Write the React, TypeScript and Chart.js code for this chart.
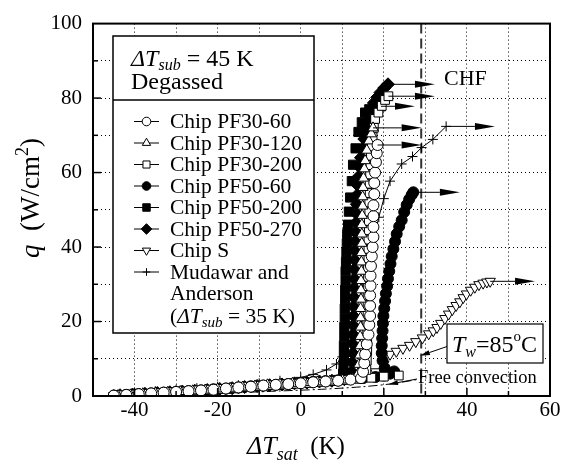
import React, { useEffect, useRef } from "react";
import { Chart, registerables } from "chart.js";

Chart.register(...registerables);

const FONT = "'Liberation Serif', 'Times New Roman', Times, serif";

// Axes
const xMin = -50;
const xMax = 60;
const yMin = 0;
const yMax = 100;
const gridStep = 10;
const xLabelTicks = [-40, -20, 0, 20, 40, 60];
const yLabelTicks = [0, 20, 40, 60, 80, 100];

// Chip PF30-60 (open circles)
const pf3060X = [-45, -42, -39, -36, -33, -30, -27, -24, -21, -18, -15, -12, -9, -6, -3, 0, 3, 6, 9, 12, 14.5,
  15, 15.3, 15.5, 15.9, 16.3, 16.5, 16.7, 16.7, 16.7, 16.8, 16.8, 16.9, 17.1, 17.3, 17.5, 17.5, 17.5, 17.5, 17.7, 17.7, 17.9, 18.1, 18.3, 18.5];
const pf3060Q = [0.1, 0.3, 0.5, 0.7, 0.9, 1.1, 1.3, 1.5, 1.7, 2.0, 2.3, 2.5, 2.8, 3.0, 3.2, 3.4, 3.7, 3.9, 4.1, 4.4, 4.8,
  6.5, 8.8, 11.2, 13.9, 16.5, 19.1, 21.5, 24.2, 27.0, 29.6, 32.3, 34.9, 37.5, 40.0, 42.7, 45.4, 48.3, 51.2, 54.2, 57.2, 60.0, 62.8, 65.2, 67.4];

// Chip PF30-120 (open triangles)
const pf30120X = [-44, -41, -38, -35, -32, -29, -26, -23, -20, -17, -14, -11, -8, -5, -2, 1, 4, 7, 10, 12.5,
  13.8, 14.0, 14.2, 14.3, 14.3, 14.4, 14.4, 14.4, 14.5, 14.5, 14.5, 14.6, 14.6, 14.6, 14.7, 14.7, 14.7, 14.8, 14.9, 14.9, 15.0, 15.1, 15.3, 15.5, 15.9, 16.4, 17.0, 17.4];
const pf30120Q = [0.1, 0.3, 0.6, 0.8, 1.0, 1.2, 1.4, 1.6, 1.9, 2.1, 2.4, 2.7, 3.0, 3.2, 3.4, 3.6, 3.8, 4.0, 4.3, 4.6,
  6.0, 8.5, 11.0, 13.5, 16.0, 18.5, 21.0, 23.5, 26.0, 28.5, 31.0, 33.5, 36.0, 38.5, 41.0, 43.5, 46.0, 48.5, 51.0, 53.5, 56.0, 58.5, 61.0, 63.2, 66.0, 68.5, 70.4, 72.0];

// Chip PF30-200 (open squares)
const pf30200X = [-43, -40, -37, -34, -31, -28, -25, -22, -19, -16, -13, -10, -7, -4, -1, 2, 5, 8, 11, 14, 17, 20, 23.6,
  15.8, 15.9, 16.0, 16.0, 16.0, 16.0, 16.1, 16.1, 16.1, 16.2, 16.2, 16.2, 16.3, 16.3, 16.3, 16.4, 16.4, 16.5, 16.5, 16.6, 16.6, 16.7, 16.8, 16.9, 17.1, 17.3, 17.6, 17.9, 18.7, 19.5, 20.3, 21.1];
const pf30200Q = [0.2, 0.4, 0.6, 0.8, 1.0, 1.2, 1.5, 1.7, 1.9, 2.2, 2.5, 2.7, 2.9, 3.1, 3.3, 3.5, 3.8, 4.0, 4.3, 4.6, 4.9, 5.2, 5.5,
  7.0, 9.5, 12.0, 14.5, 17.0, 19.5, 22.0, 24.5, 27.0, 29.5, 32.0, 34.5, 37.0, 39.5, 42.0, 44.5, 47.0, 49.5, 52.0, 54.5, 57.0, 59.5, 62.0, 64.5, 67.0, 69.5, 72.0, 74.4, 76.1, 77.9, 79.5, 80.5];

// Chip PF50-60 (filled circles)
const pf5060X = [-45, -42, -39, -36, -33, -30, -27, -24, -21, -18, -15, -12, -9, -6, -3, 0, 3, 6, 9, 12, 15, 18, 20, 21.5, 22.5,
  20.2, 19.7, 19.5, 19.5, 19.6, 19.7, 19.8, 19.9, 20.1, 20.3, 20.5, 20.8, 21.0, 21.3, 21.6, 21.9, 22.3, 22.7, 23.1, 23.7, 24.3, 24.9, 25.5, 26.1, 26.7, 27.1];
const pf5060Q = [0.1, 0.3, 0.5, 0.7, 0.9, 1.1, 1.3, 1.5, 1.8, 2.0, 2.3, 2.6, 2.8, 3.0, 3.2, 3.5, 3.8, 4.0, 4.2, 4.5, 4.8, 5.1, 5.5, 6.0, 6.6,
  7.5, 9.5, 11.5, 13.5, 15.5, 17.5, 19.5, 21.5, 23.5, 25.5, 27.5, 29.5, 31.5, 33.5, 35.5, 37.5, 39.5, 41.5, 43.5, 45.5, 47.2, 49.4, 51.3, 52.8, 54.0, 54.7];

// Chip PF50-200 (filled squares)
const pf50200X = [-44.5, -41.5, -38.5, -35.5, -32.5, -29.5, -26.5, -23.5, -20.5, -17.5, -14.5, -11.5, -8.5, -5.5, -2.5, 0.5, 3.5, 6.5, 9,
  10.2, 10.3, 10.4, 10.4, 10.5, 10.5, 10.6, 10.6, 10.7, 10.7, 10.8, 10.8, 10.9, 11.0, 11.1, 11.2, 11.4, 11.6, 11.9, 12.3, 12.6, 13.2, 13.9, 14.7, 15.5, 16.5, 17.8, 19.3];
const pf50200Q = [0.1, 0.3, 0.5, 0.7, 0.9, 1.1, 1.3, 1.5, 1.8, 2.0, 2.3, 2.6, 2.8, 3.0, 3.3, 3.5, 3.8, 4.0, 4.3,
  6.0, 8.5, 11.0, 13.5, 16.0, 18.5, 21.0, 23.5, 26.0, 28.5, 31.0, 33.5, 36.0, 38.5, 41.0, 43.5, 46.0, 49.5, 53.3, 57.7, 62.1, 66.5, 70.9, 73.5, 76.1, 77.0, 77.5, 77.8];

// Chip PF50-270 (filled diamonds)
const pf50270X = [-43.5, -40.5, -37.5, -34.5, -31.5, -28.5, -25.5, -22.5, -19.5, -16.5, -13.5, -10.5, -7.5, -4.5, -1.5, 1.5, 4.5, 7.5, 10.5,
  12.3, 12.4, 12.5, 12.5, 12.6, 12.6, 12.7, 12.7, 12.8, 12.8, 12.9, 12.9, 13.0, 13.0, 13.1, 13.2, 13.3, 13.4, 13.5, 13.6, 13.8, 14.0, 14.2, 14.5, 14.9, 15.3, 15.8, 16.4, 17.0, 17.6, 18.4, 19.2, 20.1, 21.0];
const pf50270Q = [0.2, 0.4, 0.6, 0.8, 1.0, 1.2, 1.4, 1.6, 1.9, 2.1, 2.4, 2.7, 2.9, 3.1, 3.4, 3.6, 3.9, 4.1, 4.5,
  6.5, 9.0, 11.5, 14.0, 16.5, 19.0, 21.5, 24.0, 26.5, 29.0, 31.5, 34.0, 36.5, 39.0, 41.5, 44.0, 46.5, 49.0, 51.5, 54.0, 56.5, 59.0, 61.5, 64.0, 66.5, 69.0, 71.5, 74.0, 76.5, 78.7, 80.2, 81.5, 82.7, 83.7];

// Chip S (open inverted triangles)
const chipSX = [-45, -42, -39, -36, -33, -30, -27, -24, -21, -18, -15, -12, -9, -6, -3, 0, 3, 6, 9, 12, 15, 18, 20,
  21.5, 23.0, 24.6, 26.2, 27.7, 29.3, 30.8, 31.9, 32.8, 33.7, 34.7, 35.6, 36.5, 37.4, 38.3, 39.1, 39.9, 40.9, 41.9, 42.9, 43.9, 44.8, 45.6];
const chipSQ = [0.1, 0.3, 0.5, 0.7, 0.9, 1.1, 1.3, 1.5, 1.7, 2.0, 2.2, 2.5, 2.7, 3.0, 3.2, 3.4, 3.7, 3.9, 4.2, 4.6, 5.2, 6.5, 8.5,
  11.2, 12.0, 12.8, 13.6, 14.6, 15.6, 16.7, 17.5, 18.4, 19.5, 20.8, 22.0, 23.2, 24.3, 25.3, 26.4, 27.4, 28.4, 29.2, 29.9, 30.3, 30.6, 30.8];

// Mudawar and Anderson (crosses with line)
const mudX = [-45, -40, -35, -30, -25, -20, -15, -10, -5, 0, 3, 6.2, 8.6, 10, 11.5, 13, 14.5, 16, 17.5, 18.8, 20, 21.5, 24.3, 26.9, 29.1, 31.8, 35];
const mudQ = [0.5, 0.9, 1.3, 1.7, 2.1, 2.5, 2.9, 3.4, 4.1, 5.0, 5.8, 7.0, 8.6, 10.5, 15, 21, 28, 35, 42, 48, 53, 57.7, 62.3, 64.3, 66.7, 68.9, 72.4];

// Free convection (dash-dot)
const freeConvX = [-45, -35, -25, -15, -5, 5, 15, 22, 28];
const freeConvQ = [0, 0.25, 0.55, 0.9, 1.35, 1.8, 2.5, 3.3, 4.4];

// CHF arrow end positions (ΔTsat, K) in series order
const seriesNames = ["Chip PF30-60", "Chip PF30-120", "Chip PF30-200", "Chip PF50-60", "Chip PF50-200", "Chip PF50-270", "Chip S", "Mudawar and"];
const chfArrowEndX = [29.1, 29.1, 32.3, 38.3, 27.5, 32.3, 56.4, 46.75];

// Wall temperature line T_w = 85 °C
const twLineX = 29;

type Style = { shape: string; filled: boolean; r: number; rot?: number };
const styles: Style[] = [
  { shape: "circle", filled: false, r: 5.5 },
  { shape: "triangle", filled: false, r: 6 },
  { shape: "rect", filled: false, r: 6.2 },
  { shape: "circle", filled: true, r: 5.5 },
  { shape: "rect", filled: true, r: 6.5 },
  { shape: "rectRot", filled: true, r: 6.5 },
  { shape: "triangle", filled: false, r: 6, rot: 180 },
  { shape: "cross", filled: false, r: 5 },
];

const seriesX = [pf3060X, pf30120X, pf30200X, pf5060X, pf50200X, pf50270X, chipSX, mudX];
const seriesQ = [pf3060Q, pf30120Q, pf30200Q, pf5060Q, pf50200Q, pf50270Q, chipSQ, mudQ];

function pts(xs: number[], ys: number[]) {
  return xs.map((x, i) => ({ x, y: ys[i] }));
}

type Seg = { t: string; it?: boolean; s: number; dy?: number };
function rich(ctx: CanvasRenderingContext2D, segs: Seg[], x: number, y: number) {
  let cx = x;
  for (const sg of segs) {
    ctx.font = `${sg.it ? "italic " : ""}${sg.s}px ${FONT}`;
    ctx.fillText(sg.t, cx, y + (sg.dy || 0));
    cx += ctx.measureText(sg.t).width;
  }
  return cx - x;
}

function drawMarker(ctx: CanvasRenderingContext2D, st: Style, x: number, y: number, r: number) {
  ctx.save();
  ctx.lineWidth = 1;
  ctx.strokeStyle = "#000";
  ctx.fillStyle = st.filled ? "#000" : "#fff";
  ctx.beginPath();
  if (st.shape === "circle") {
    ctx.arc(x, y, r, 0, Math.PI * 2);
  } else if (st.shape === "triangle") {
    const sgn = st.rot ? -1 : 1;
    for (let k = 0; k < 3; k++) {
      const a = (k * 2 * Math.PI) / 3;
      const px = x + Math.sin(a) * r;
      const py = y - sgn * Math.cos(a) * r;
      if (k === 0) ctx.moveTo(px, py);
      else ctx.lineTo(px, py);
    }
    ctx.closePath();
  } else if (st.shape === "rect") {
    const s = r * Math.SQRT1_2;
    ctx.rect(x - s, y - s, 2 * s, 2 * s);
  } else if (st.shape === "rectRot") {
    ctx.moveTo(x, y - r);
    ctx.lineTo(x + r, y);
    ctx.lineTo(x, y + r);
    ctx.lineTo(x - r, y);
    ctx.closePath();
  } else if (st.shape === "cross") {
    ctx.moveTo(x - r, y);
    ctx.lineTo(x + r, y);
    ctx.moveTo(x, y - r);
    ctx.lineTo(x, y + r);
    ctx.stroke();
    ctx.restore();
    return;
  }
  ctx.fill();
  ctx.stroke();
  ctx.restore();
}

function arrowTo(ctx: CanvasRenderingContext2D, x1: number, y1: number, x2: number, y2: number, len: number, half: number) {
  const ang = Math.atan2(y2 - y1, x2 - x1);
  const bx = x2 - Math.cos(ang) * len;
  const by = y2 - Math.sin(ang) * len;
  ctx.beginPath();
  ctx.moveTo(x1, y1);
  ctx.lineTo(bx, by);
  ctx.lineWidth = 1;
  ctx.stroke();
  ctx.beginPath();
  ctx.moveTo(x2, y2);
  ctx.lineTo(bx - Math.sin(ang) * half, by + Math.cos(ang) * half);
  ctx.lineTo(bx + Math.sin(ang) * half, by - Math.cos(ang) * half);
  ctx.closePath();
  ctx.fill();
}

const overlay = {
  id: "overlay",
  beforeDatasetsDraw(chart: any) {
    const { ctx, chartArea: a, scales } = chart;
    const px = scales.x.getPixelForValue(twLineX);
    ctx.save();
    ctx.strokeStyle = "#333";
    ctx.lineWidth = 2;
    ctx.setLineDash([10, 5]);
    ctx.beginPath();
    ctx.moveTo(px, a.top);
    ctx.lineTo(px, a.bottom);
    ctx.stroke();
    ctx.restore();
  },
  afterDatasetsDraw(chart: any) {
    const { ctx, chartArea: a, scales } = chart;
    const xs = scales.x;
    const ys = scales.y;
    ctx.save();
    ctx.fillStyle = "#000";
    ctx.strokeStyle = "#000";

    // CHF arrows from the last point of each series
    seriesX.forEach((sx, i) => {
      const lx = sx[sx.length - 1];
      const lq = seriesQ[i][seriesQ[i].length - 1];
      const yp = ys.getPixelForValue(lq);
      arrowTo(ctx, xs.getPixelForValue(lx), yp, xs.getPixelForValue(chfArrowEndX[i]), yp, 20, 3.5);
    });

    // frame
    ctx.lineWidth = 2;
    ctx.strokeRect(a.left, a.top, a.right - a.left, a.bottom - a.top);

    // inward ticks
    ctx.lineWidth = 1.5;
    for (let v = xMin + gridStep; v < xMax; v += gridStep) {
      const p = xs.getPixelForValue(v);
      const L = xLabelTicks.includes(v) ? 8 : 5;
      ctx.beginPath();
      ctx.moveTo(p, a.bottom);
      ctx.lineTo(p, a.bottom - L);
      ctx.stroke();
    }
    for (let v = yMin + gridStep; v < yMax; v += gridStep) {
      const p = ys.getPixelForValue(v);
      const L = yLabelTicks.includes(v) ? 8 : 5;
      ctx.beginPath();
      ctx.moveTo(a.left, p);
      ctx.lineTo(a.left + L, p);
      ctx.stroke();
    }

    // legend box
    const bx = 113, by = 36, bw = 201, bh = 297;
    ctx.fillStyle = "#fff";
    ctx.fillRect(bx, by, bw, bh);
    ctx.lineWidth = 1.5;
    ctx.strokeRect(bx, by, bw, bh);
    ctx.beginPath();
    ctx.moveTo(bx, 100);
    ctx.lineTo(bx + bw, 100);
    ctx.stroke();
    ctx.fillStyle = "#000";
    ctx.textBaseline = "alphabetic";
    ctx.textAlign = "left";
    rich(ctx, [
      { t: "\u0394T", it: true, s: 24 },
      { t: "sub", it: true, s: 16, dy: 4 },
      { t: " = 45 K", s: 24 },
    ], 131, 66);
    rich(ctx, [{ t: "Degassed", s: 24 }], 131, 89);

    const rowY0 = 121.5;
    const rowH = 21.5;
    ctx.textBaseline = "middle";
    seriesNames.forEach((nm, i) => {
      const cy = rowY0 + i * rowH;
      ctx.lineWidth = 1;
      ctx.strokeStyle = "#000";
      ctx.beginPath();
      ctx.moveTo(134, cy);
      ctx.lineTo(159, cy);
      ctx.stroke();
      drawMarker(ctx, styles[i], 146.5, cy, styles[i].r - 1.2);
      ctx.fillStyle = "#000";
      ctx.font = `21.5px ${FONT}`;
      ctx.fillText(nm, 170, cy + 1);
    });
    ctx.font = `21.5px ${FONT}`;
    ctx.fillText("Anderson", 170, rowY0 + 8 * rowH + 1);
    ctx.textBaseline = "alphabetic";
    rich(ctx, [
      { t: "(", s: 21.5 },
      { t: "\u0394T", it: true, s: 21.5 },
      { t: "sub", it: true, s: 15, dy: 4 },
      { t: " = 35 K)", s: 21.5 },
    ], 170, rowY0 + 9 * rowH + 8);

    // CHF label
    ctx.font = `22px ${FONT}`;
    ctx.fillText("CHF", 444, 85);

    // Tw box
    ctx.fillStyle = "#fff";
    ctx.fillRect(447, 324, 96, 39);
    ctx.lineWidth = 1.2;
    ctx.strokeRect(447, 324, 96, 39);
    ctx.fillStyle = "#000";
    rich(ctx, [
      { t: "T", it: true, s: 24 },
      { t: "w", it: true, s: 16, dy: 5 },
      { t: "=85", s: 24 },
      { t: "o", s: 15, dy: -11 },
      { t: "C", s: 24 },
    ], 452, 352);
    arrowTo(ctx, 447, 346.5, xs.getPixelForValue(28.7), ys.getPixelForValue(10.8), 10, 2.5);

    // Free convection
    ctx.font = `18.5px ${FONT}`;
    ctx.fillText("Free convection", 418, 383);
    arrowTo(ctx, 417, 379, xs.getPixelForValue(21), ys.getPixelForValue(3.1), 10, 2.5);

    // axis titles
    rich(ctx, [
      { t: "\u0394T", it: true, s: 26 },
      { t: "sat", it: true, s: 18, dy: 6 },
      { t: "  (K)", s: 25 },
    ], 247, 454);

    ctx.translate(39, 258);
    ctx.rotate(-Math.PI / 2);
    rich(ctx, [
      { t: "q", it: true, s: 27 },
      { t: "  (W/cm", s: 27 },
      { t: "2", s: 18, dy: -11 },
      { t: ")", s: 27 },
    ], 0, 0);
    ctx.restore();
  },
};

export default function App() {
  const ref = useRef<HTMLCanvasElement | null>(null);
  useEffect(() => {
    if (!ref.current) return;
    const datasets: any[] = seriesX.map((sx, i) => {
      const st = styles[i];
      const isMud = i === 7;
      return {
        label: seriesNames[i],
        data: pts(sx, seriesQ[i]),
        showLine: isMud,
        borderColor: "#000",
        borderWidth: 1,
        backgroundColor: st.filled ? "#000" : "#fff",
        pointBackgroundColor: st.filled ? "#000" : "#fff",
        pointBorderColor: "#000",
        pointBorderWidth: 1,
        pointStyle: st.shape,
        pointRotation: st.rot || 0,
        pointRadius: st.r,
        tension: 0,
      };
    });
    datasets.push({
      label: "Free convection",
      data: pts(freeConvX, freeConvQ),
      showLine: true,
      borderColor: "#000",
      borderWidth: 1,
      borderDash: [9, 3, 2, 3],
      pointRadius: 0,
      tension: 0.3,
    });
    const chart = new Chart(ref.current, {
      type: "scatter",
      data: { datasets },
      options: {
        animation: false,
        responsive: false,
        devicePixelRatio: 1,
        layout: { padding: { top: 16, right: 14, left: 0, bottom: 0 } },
        plugins: { legend: { display: false }, tooltip: { enabled: false } },
        scales: {
          x: {
            type: "linear",
            min: xMin,
            max: xMax,
            afterFit: (s: any) => {
              s.height = 70;
            },
            ticks: {
              stepSize: gridStep,
              autoSkip: false,
              maxRotation: 0,
              color: "#000",
              padding: 2,
              font: { family: FONT, size: 21 },
              callback: (v: any) => (xLabelTicks.includes(Number(v)) ? String(v) : ""),
            },
            grid: { color: "#000", lineWidth: 1, drawTicks: false },
            border: { display: false, dash: [1, 3] },
          },
          y: {
            type: "linear",
            min: yMin,
            max: yMax,
            afterFit: (s: any) => {
              s.width = 93;
            },
            ticks: {
              stepSize: gridStep,
              autoSkip: false,
              color: "#000",
              padding: 11,
              font: { family: FONT, size: 21 },
              callback: (v: any) => (yLabelTicks.includes(Number(v)) ? String(v) : ""),
            },
            grid: { color: "#000", lineWidth: 1, drawTicks: false },
            border: { display: false, dash: [1, 3] },
          },
        },
      } as any,
      plugins: [overlay],
    });
    return () => chart.destroy();
  }, []);
  return (
    <div style={{ position: "absolute", left: 0, top: 0, width: 564, height: 466, background: "#fff" }}>
      <canvas ref={ref} width={564} height={466} style={{ display: "block" }} />
    </div>
  );
}
